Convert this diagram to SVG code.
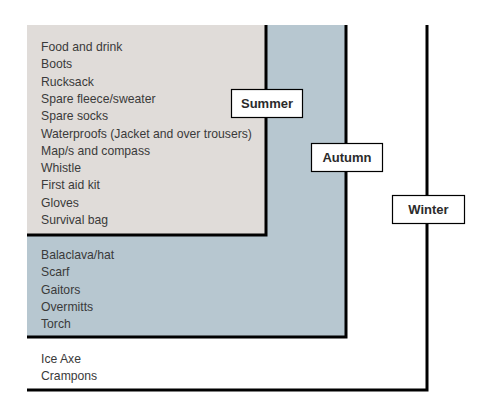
<svg xmlns="http://www.w3.org/2000/svg" width="492" height="416" viewBox="0 0 492 416">
<style>
.edge{fill:none;stroke:#000;stroke-width:3;stroke-linejoin:miter}
.item{font-family:"Liberation Sans",Arial,sans-serif;font-size:12.2px;fill:#3a3a3a}
.lbl rect{fill:#fff;stroke:#000;stroke-width:1.2}
.lbl text{font-family:"Liberation Sans",Arial,sans-serif;font-size:13px;font-weight:bold;fill:#2b2b2b;text-anchor:middle}
</style>
<rect width="492" height="416" fill="#fff"/>
<g id="winter">
<path class="edge" d="M427,25 V390 H27"/>
<text class="item" x="41" y="363">Ice Axe</text>
<text class="item" x="41" y="380">Crampons</text>
</g>
<g id="autumn">
<rect x="27" y="25" width="319" height="312" fill="#b7c7d0"/>
<path class="edge" d="M346,25 V337 H27"/>
<text class="item" x="41" y="259">Balaclava/hat</text>
<text class="item" x="41" y="276.3">Scarf</text>
<text class="item" x="41" y="293.6">Gaitors</text>
<text class="item" x="41" y="310.9">Overmitts</text>
<text class="item" x="41" y="328.2">Torch</text>
</g>
<g id="summer">
<rect x="27" y="25" width="239" height="210" fill="#e0dcd9"/>
<path class="edge" d="M266,25 V235 H27"/>
<text class="item" x="41" y="51">Food and drink</text>
<text class="item" x="41" y="68.3">Boots</text>
<text class="item" x="41" y="85.6">Rucksack</text>
<text class="item" x="41" y="102.9">Spare fleece/sweater</text>
<text class="item" x="41" y="120.2">Spare socks</text>
<text class="item" x="41" y="137.5">Waterproofs (Jacket and over trousers)</text>
<text class="item" x="41" y="154.8">Map/s and compass</text>
<text class="item" x="41" y="172.1">Whistle</text>
<text class="item" x="41" y="189.4">First aid kit</text>
<text class="item" x="41" y="206.7">Gloves</text>
<text class="item" x="41" y="224">Survival bag</text>
</g>
<g id="labels">
<g id="summer-label" class="lbl"><rect x="231.5" y="89.5" width="71" height="28"/><text x="267" y="108">Summer</text></g>
<g id="autumn-label" class="lbl"><rect x="311.5" y="143.5" width="71" height="28"/><text x="347" y="162">Autumn</text></g>
<g id="winter-label" class="lbl"><rect x="392.5" y="195.5" width="72" height="28"/><text x="428.5" y="214">Winter</text></g>
</g>
</svg>
